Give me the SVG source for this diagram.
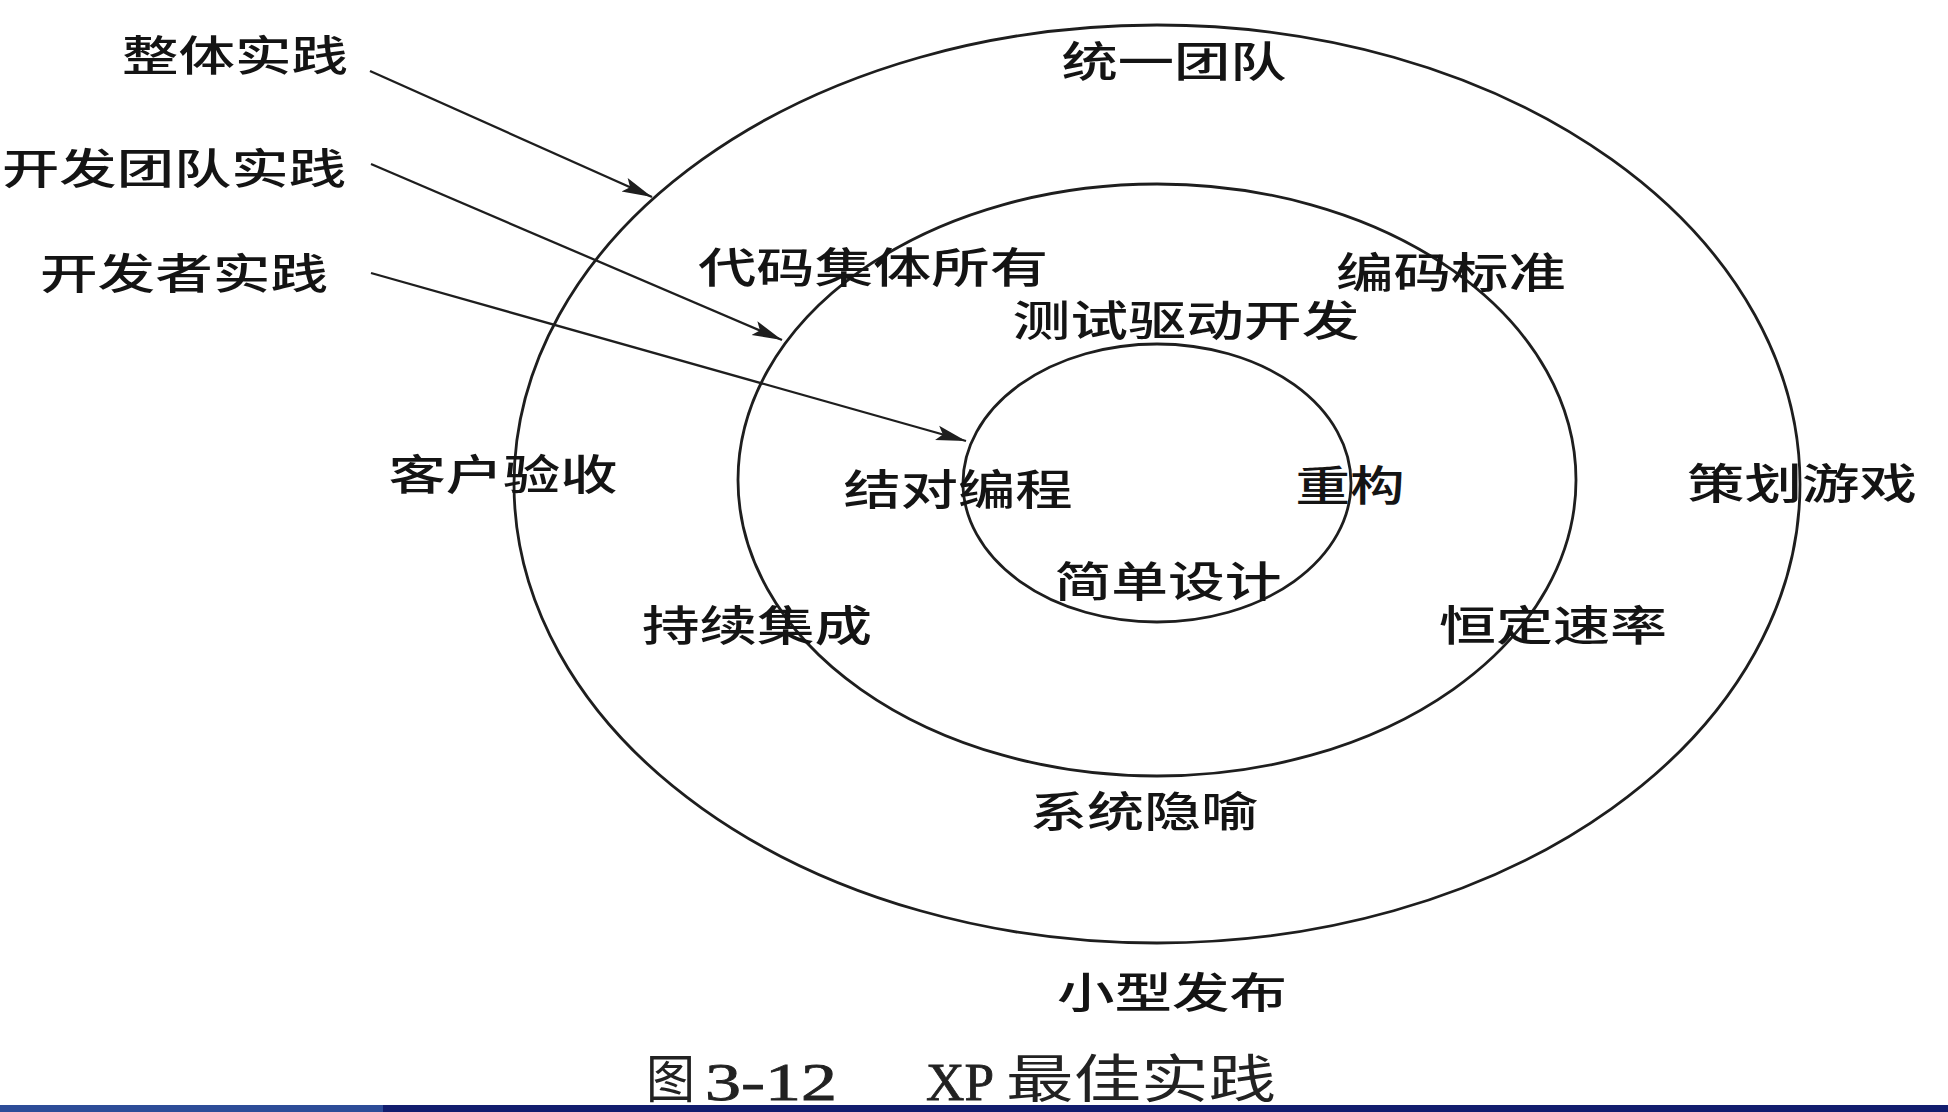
<svg xmlns="http://www.w3.org/2000/svg" width="1948" height="1112" viewBox="0 0 1948 1112">
  <defs>
    <style>
      .ring { fill: none; stroke: #1e1e1e; stroke-width: 2.8; }
      .conn { fill: none; stroke: #1e1e1e; stroke-width: 2.3; }
      .lbl { font-family: "Noto Sans CJK SC", "Noto Sans", sans-serif; font-size: 42px; font-weight: 500; fill: #141414; text-anchor: middle; dominant-baseline: central; }
      .cap { font-family: "Noto Sans CJK SC", sans-serif; font-size: 52px; font-weight: 400; fill: #222222; }
      .capn { font-family: "Liberation Serif", "Noto Sans CJK SC", serif; font-size: 52px; fill: #222222; stroke: #222222; stroke-width: 0.8; }
    </style>
    <marker id="arr" markerUnits="userSpaceOnUse" markerWidth="32" markerHeight="18" refX="30" refY="9" orient="auto">
      <path d="M0,1.5 L30,9 L0,16.5 L6,9 Z" fill="#1e1e1e"/>
    </marker>
  </defs>
  <rect x="0" y="0" width="1948" height="1112" fill="#ffffff"/>

  <g id="ring-outer"><ellipse class="ring" cx="1157" cy="484" rx="643" ry="459"/></g>
  <g id="ring-middle"><ellipse class="ring" cx="1157" cy="480" rx="419" ry="296"/></g>
  <g id="ring-inner"><ellipse class="ring" cx="1157" cy="483" rx="194" ry="139"/></g>

  <g id="connectors">
    <line class="conn" x1="370" y1="71" x2="652" y2="197" marker-end="url(#arr)"/>
    <line class="conn" x1="371" y1="164" x2="782" y2="340" marker-end="url(#arr)"/>
    <line class="conn" x1="371" y1="273" x2="966" y2="441" marker-end="url(#arr)"/>
  </g>

  <g id="label-whole"><text class="lbl" x="235" y="52" textLength="226" lengthAdjust="spacingAndGlyphs">整体实践</text></g>
  <g id="label-team"><text class="lbl" x="174" y="165" textLength="344" lengthAdjust="spacingAndGlyphs">开发团队实践</text></g>
  <g id="label-dev"><text class="lbl" x="184" y="270" textLength="288" lengthAdjust="spacingAndGlyphs">开发者实践</text></g>

  <g id="node-unified-team"><text class="lbl" x="1174" y="58" textLength="225" lengthAdjust="spacingAndGlyphs">统一团队</text></g>
  <g id="node-collective-ownership"><text class="lbl" x="873" y="264" textLength="350" lengthAdjust="spacingAndGlyphs">代码集体所有</text></g>
  <g id="node-coding-standard"><text class="lbl" x="1451" y="269" textLength="230" lengthAdjust="spacingAndGlyphs">编码标准</text></g>
  <g id="node-tdd"><text class="lbl" x="1186" y="317" textLength="347" lengthAdjust="spacingAndGlyphs">测试驱动开发</text></g>
  <g id="node-customer-acceptance"><text class="lbl" x="503" y="471" textLength="229" lengthAdjust="spacingAndGlyphs">客户验收</text></g>
  <g id="node-pair-programming"><text class="lbl" x="958" y="486" textLength="229" lengthAdjust="spacingAndGlyphs">结对编程</text></g>
  <g id="node-refactoring"><text class="lbl" x="1350" y="482" textLength="109" lengthAdjust="spacingAndGlyphs">重构</text></g>
  <g id="node-planning-game"><text class="lbl" x="1802" y="480" textLength="230" lengthAdjust="spacingAndGlyphs">策划游戏</text></g>
  <g id="node-simple-design"><text class="lbl" x="1168" y="578" textLength="227" lengthAdjust="spacingAndGlyphs">简单设计</text></g>
  <g id="node-continuous-integration"><text class="lbl" x="757" y="622" textLength="230" lengthAdjust="spacingAndGlyphs">持续集成</text></g>
  <g id="node-sustainable-pace"><text class="lbl" x="1553" y="622" textLength="228" lengthAdjust="spacingAndGlyphs">恒定速率</text></g>
  <g id="node-metaphor"><text class="lbl" x="1144" y="808" textLength="228" lengthAdjust="spacingAndGlyphs">系统隐喻</text></g>
  <g id="node-small-releases"><text class="lbl" x="1172" y="989" textLength="230" lengthAdjust="spacingAndGlyphs">小型发布</text></g>

  <g id="caption">
    <text class="cap" x="646" y="1098" textLength="49" lengthAdjust="spacingAndGlyphs">图</text>
    <text class="capn" x="705" y="1100" textLength="132" lengthAdjust="spacingAndGlyphs">3-12</text>
    <text class="capn" x="926" y="1100" textLength="68" lengthAdjust="spacingAndGlyphs">XP</text>
    <text class="cap" x="1006" y="1098" textLength="270" lengthAdjust="spacingAndGlyphs">最佳实践</text>
  </g>

  <rect x="0" y="1105" width="383" height="7" fill="#2d4c98"/>
  <rect x="383" y="1105" width="1565" height="7" fill="#121d6e"/>
</svg>
